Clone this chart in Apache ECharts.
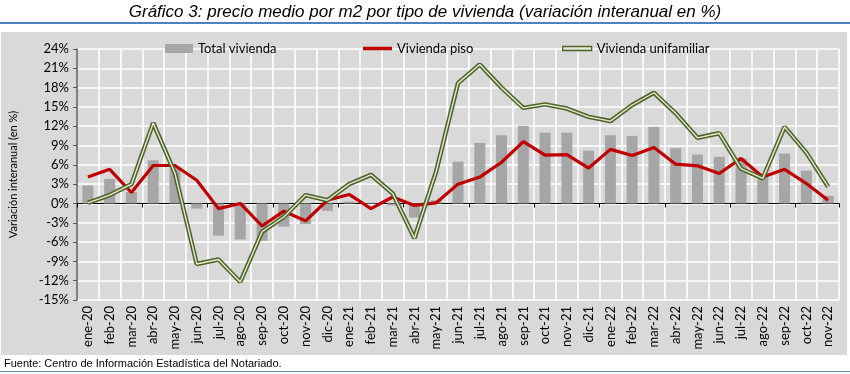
<!DOCTYPE html>
<html><head><meta charset="utf-8">
<script src="https://cdn.jsdelivr.net/npm/echarts@6/dist/echarts.min.js"></script>
<style>html,body{margin:0;padding:0;background:#fff}#c{width:850px;height:374px}</style>
</head><body><div id="c"></div>
<script>
const categories = ['ene-20','feb-20','mar-20','abr-20','may-20','jun-20','jul-20','ago-20','sep-20','oct-20','nov-20','dic-20',
  'ene-21','feb-21','mar-21','abr-21','may-21','jun-21','jul-21','ago-21','sep-21','oct-21','nov-21','dic-21',
  'ene-22','feb-22','mar-22','abr-22','may-22','jun-22','jul-22','ago-22','sep-22','oct-22','nov-22'];
const totalVivienda = [2.8,3.8,1.8,6.7,5.4,-0.8,-5.0,-5.6,-5.8,-3.6,-3.2,-1.15,
  0.3,0.1,-0.3,-2.2,0.5,6.5,9.4,10.6,12.05,11.0,11.0,8.2,
  10.6,10.5,11.9,8.6,7.6,7.25,7.0,4.4,7.75,5.1,1.2];
const viviendaPiso = [4.1,5.3,1.7,5.9,5.9,3.6,-0.8,0.0,-3.5,-1.2,-2.7,0.5,
  1.4,-0.8,1.0,-0.3,0.1,3.0,4.1,6.4,9.6,7.5,7.6,5.5,
  8.4,7.45,8.7,6.1,5.85,4.65,7.0,4.1,5.3,3.1,0.5];
const viviendaUnifamiliar = [0.1,1.3,3.0,12.5,4.7,-9.4,-8.7,-12.2,-4.4,-2.1,1.3,0.5,
  3.0,4.45,1.55,-5.4,5.0,18.7,21.6,18.0,14.85,15.4,14.75,13.45,
  12.8,15.3,17.2,14.0,10.2,10.9,5.4,3.9,11.9,7.9,2.6];
const yTicks = {min:-15, max:24, interval:3};

const chart = echarts.init(document.getElementById('c'), null, {renderer:'canvas'});
const font = 'Lato, "Open Sans", sans-serif';
chart.setOption({
  animation:false,
  backgroundColor:'#ffffff',
  graphic:[
    {type:'rect', shape:{x:1, y:32, width:846, height:323}, style:{fill:'#d9d9d9'}, z:-10},
    {type:'line', shape:{x1:0,y1:23,x2:850,y2:23}, style:{stroke:'#4f81bd', lineWidth:2}},
    {type:'line', shape:{x1:0,y1:371.5,x2:850,y2:371.5}, style:{stroke:'#6a8fae', lineWidth:1}},
    {type:'text', left:'center', top:4, style:{text:'Gráfico 3: precio medio por m2 por tipo de vivienda (variación interanual en %)',
      font:'italic 17px "Liberation Sans", Arial, sans-serif', fill:'#000'}},
    {type:'text', left:4, top:358, style:{text:'Fuente: Centro de Información Estadística del Notariado.',
      font:'11px "Liberation Sans", Arial, sans-serif', fill:'#000'}}
  ],
  grid:{left:71, right:11, top:49, bottom:74, containLabel:false},
  legend:[
    {left:160, top:37, itemWidth:28, itemHeight:9, itemGap:4, textStyle:{fontFamily:font, fontSize:13, color:'#000'},
      data:[{name:'Total vivienda', icon:'rect'}]},
    {left:358, top:37, itemWidth:29, itemHeight:3.5, itemGap:4, textStyle:{fontFamily:font, fontSize:13, color:'#000'},
      data:[{name:'Vivienda piso', icon:'rect', itemStyle:{color:'#c00000'}}]},
    {left:557, top:37, itemWidth:29, itemHeight:4, itemGap:4, textStyle:{fontFamily:font, fontSize:13, color:'#000'},
      data:[{name:'Vivienda unifamiliar', icon:'rect', itemStyle:{color:'#e4ebd4', borderColor:'#4f6228', borderWidth:1.3}}]}
  ],
  xAxis:[
    {type:'category', data:categories, boundaryGap:true,
      axisLine:{onZero:true, lineStyle:{color:'#000', width:1}},
      axisTick:{show:true, length:4, lineStyle:{color:'#000'}, alignWithLabel:false},
      axisLabel:{show:false},
      splitLine:{show:true, interval:0, lineStyle:{color:'#ffffff', width:1.5}}},
    {type:'category', data:categories, position:'bottom', boundaryGap:true,
      axisLine:{show:false, onZero:false}, axisTick:{show:false},
      axisLabel:{interval:0, rotate:90, margin:6, fontFamily:font, fontSize:13, color:'#000'},
      splitLine:{show:false}}
  ],
  yAxis:{type:'value', min:yTicks.min, max:yTicks.max, interval:yTicks.interval,
    name:'Variación interanual (en %)', nameLocation:'middle', nameGap:58, nameRotate:90,
    nameTextStyle:{fontFamily:font, fontSize:11, color:'#000'},
    axisLine:{show:true, lineStyle:{color:'#595959', width:1.5}},
    axisTick:{show:true, length:4, lineStyle:{color:'#595959'}},
    axisLabel:{formatter:'{value}%', margin:8, fontFamily:font, fontSize:13, color:'#000'},
    splitLine:{show:true, lineStyle:{color:'#ffffff', width:1.5}}},
  series:[
    {name:'Total vivienda', type:'bar', data:totalVivienda, barWidth:11, color:'#a6a6a6',
      itemStyle:{color:'#a6a6a6'}, z:2},
    {name:'Vivienda piso', type:'line', data:viviendaPiso, color:'#c00000', showSymbol:false, symbol:'none',
      lineStyle:{color:'#c00000', width:3.2}, z:4},
    {name:'Vivienda unifamiliar', type:'line', data:viviendaUnifamiliar, color:'#4f6228', showSymbol:false, symbol:'none',
      lineStyle:{color:'#4f6228', width:4.5}, z:5},
    {name:'Vivienda unifamiliar', type:'line', data:viviendaUnifamiliar, color:'#4f6228', showSymbol:false, symbol:'none',
      lineStyle:{color:'#e4ebd4', width:1.4}, z:6}
  ]
});
</script></body></html>
